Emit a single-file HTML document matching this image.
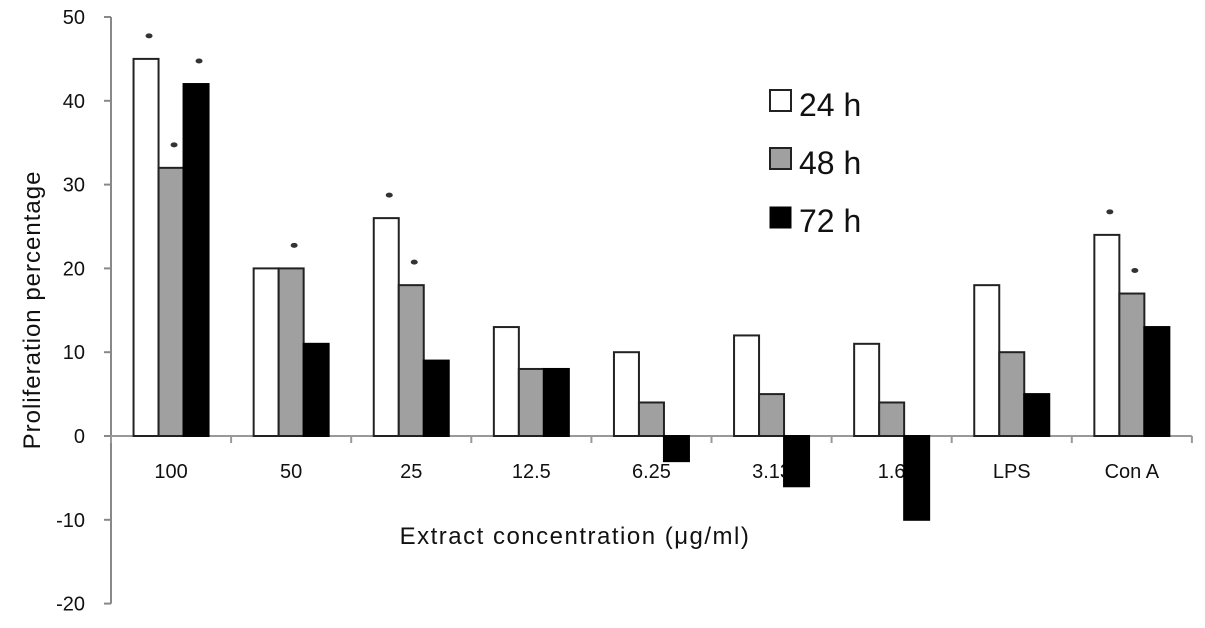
<!DOCTYPE html>
<html><head><meta charset="utf-8"><style>
html,body{margin:0;padding:0;background:#fff}
svg{display:block;font-family:"Liberation Sans",sans-serif}
</style></head><body>
<svg id="chart" width="1205" height="628" viewBox="0 0 1205 628" xmlns="http://www.w3.org/2000/svg">
<text transform="translate(40,310) rotate(-90)" text-anchor="middle" font-size="24" letter-spacing="1" fill="#111">Proliferation percentage</text>
<text x="575" y="544" text-anchor="middle" font-size="24" letter-spacing="1.5" fill="#111">Extract concentration  (μg/ml)</text>
<g id="legend">
 <g><rect x="770" y="90" width="21" height="21" fill="#fff" stroke="#222" stroke-width="2"/><text x="799" y="116" font-size="32" fill="#111">24 h</text></g>
 <g><rect x="770" y="148" width="21" height="21" fill="#a0a0a0" stroke="#222" stroke-width="2"/><text x="799" y="174" font-size="32" fill="#111">48 h</text></g>
 <g><rect x="770" y="207" width="21" height="21" fill="#000" stroke="#000" stroke-width="1"/><text x="799" y="232" font-size="32" fill="#111">72 h</text></g>
</g>
<g id="axes"></g>
<g id="labels"></g>
<g id="bars"></g>
</svg>
<script>
const categories = ["100","50","25","12.5","6.25","3.13","1.6","LPS","Con A"];
const series24 = [45,20,26,13,10,12,11,18,24];
const series48 = [32,20,18,8,4,5,4,10,17];
const series72 = [42,11,9,8,-3,-6,-10,5,13];
const sig24 = [1,0,1,0,0,0,0,0,1];
const sig48 = [1,1,1,0,0,0,0,0,1];
const sig72 = [1,0,0,0,0,0,0,0,0];
const yTicks = [-20,-10,0,10,20,30,40,50];

const NS="http://www.w3.org/2000/svg";
const x0=111, catW=120.1, y0=436, pxPer=8.38;
const y = v => y0 - v*pxPer;
const xc = i => x0 + catW*(i+0.5);
function mk(tag, attrs, parent){const e=document.createElementNS(NS,tag);for(const k in attrs)e.setAttribute(k,attrs[k]);parent.appendChild(e);return e;}
const axes=document.getElementById('axes'), labels=document.getElementById('labels'), bars=document.getElementById('bars');

let ya=mk('line',{x1:x0,y1:y(-20),x2:x0,y2:y(50),stroke:'#888','stroke-width':2},axes);


let xa=mk('line',{x1:x0,y1:y0,x2:x0+catW*categories.length,y2:y0,stroke:'#999','stroke-width':2},axes);


yTicks.forEach(t=>{
  mk('line',{x1:x0-7,y1:y(t),x2:x0,y2:y(t),stroke:'#888','stroke-width':2},axes);
  const tx=mk('text',{x:x0-26,y:y(t)+7,'text-anchor':'end','font-size':20,fill:'#111'},axes);
  tx.textContent=t;
  
  
});
for(let i=0;i<=categories.length;i++){
  mk('line',{x1:x0+catW*i,y1:y0,x2:x0+catW*i,y2:y0+7,stroke:'#999','stroke-width':2},axes);
}
categories.forEach((c,i)=>{
  const tx=mk('text',{x:xc(i),y:y0+42,'text-anchor':'middle','font-size':20,fill:'#111'},labels);
  tx.textContent=c;
  
  
});
const seriesList=[[series24,'#fff','#222',sig24],[series48,'#a0a0a0','#222',sig48],[series72,'#000','#000',sig72]];
const bw=25;
categories.forEach((c,i)=>{
  seriesList.forEach((s,k)=>{
    const v=s[0][i];
    const bx=xc(i)-1.5*bw+k*bw;
    const top=Math.min(y(v),y0), h=Math.abs(y(v)-y0);
    const r=mk('rect',{x:bx,y:top,width:bw,height:h,fill:s[1],stroke:s[2],'stroke-width':2},bars);
    
    
    if(s[3][i]){
      const a=mk('ellipse',{cx:bx+bw/2+3,cy:y(v)-23,rx:3.5,ry:2.5,fill:'#333'},bars);
      
      
    }
  });
});
</script>
</body></html>
